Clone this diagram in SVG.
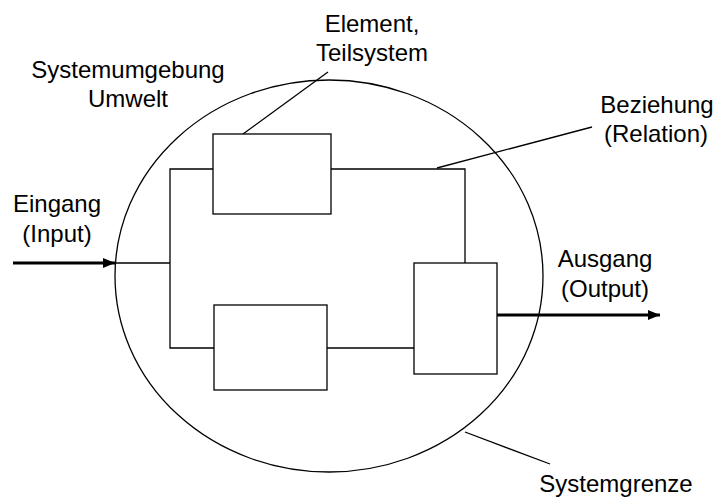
<svg xmlns="http://www.w3.org/2000/svg" width="718" height="497" viewBox="0 0 718 497">
<style>
.l{fill:none;stroke:#000;stroke-width:1.3}
.b{fill:#fff;stroke:#000;stroke-width:1.3}
.a{fill:none;stroke:#000;stroke-width:3}
text{font-family:"Liberation Sans",Arial,sans-serif;font-size:24px;fill:#000;text-anchor:middle}
</style>
<defs>
<marker id="ah" markerWidth="12" markerHeight="12" viewBox="0 0 12 12" refX="12" refY="6" orient="auto" markerUnits="userSpaceOnUse">
<path d="M0,1 L12,6 L0,11 Z" fill="#000"/>
</marker>
</defs>
<g id="boundary"><ellipse class="l" cx="329" cy="276" rx="214" ry="196"/></g>
<g id="connectors">
<polyline class="l" points="213,169 170,169 170,348 214,348"/>
<line class="l" x1="115" y1="263" x2="170" y2="263"/>
<polyline class="l" points="331,169 465,169 465,263"/>
<line class="l" x1="327" y1="348" x2="414" y2="348"/>
<line class="a" x1="13" y1="263" x2="115" y2="263" marker-end="url(#ah)"/>
<line class="a" x1="497" y1="315" x2="660" y2="315" marker-end="url(#ah)"/>
<line class="l" x1="243" y1="134" x2="328" y2="72"/>
<line class="l" x1="437" y1="168" x2="592" y2="127"/>
<line class="l" x1="465" y1="432" x2="550" y2="464"/>
</g>
<g id="element1"><rect class="b" x="213" y="134" width="118" height="80"/></g>
<g id="element2"><rect class="b" x="214" y="305" width="113" height="85"/></g>
<g id="element3"><rect class="b" x="414" y="263" width="83" height="111"/></g>
<g id="labels">
<text x="128" y="78">Systemumgebung</text>
<text x="128" y="107">Umwelt</text>
<text x="372" y="32">Element,</text>
<text x="372" y="61">Teilsystem</text>
<text x="657" y="113">Beziehung</text>
<text x="656" y="142">(Relation)</text>
<text x="57" y="212">Eingang</text>
<text x="57" y="242">(Input)</text>
<text x="605" y="267">Ausgang</text>
<text x="605" y="297">(Output)</text>
<text x="616" y="492">Systemgrenze</text>
</g>
</svg>
